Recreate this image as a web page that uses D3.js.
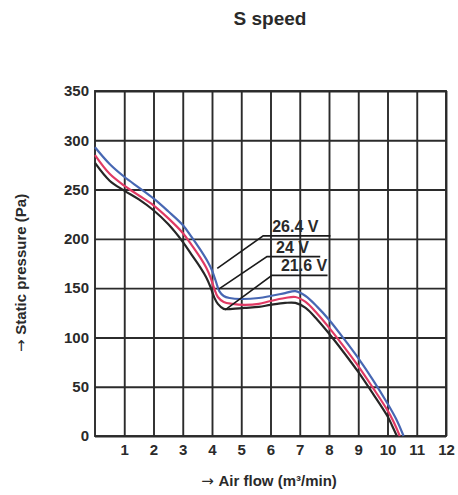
<!DOCTYPE html>
<html>
<head>
<meta charset="utf-8">
<script src="https://cdn.jsdelivr.net/npm/d3@7"></script>
<style>
    body { margin: 0; background: #fff; }
    text { font-family: "Liberation Sans", Arial, sans-serif; font-weight: bold; fill: #2a2a2a; }
    .arrow { font-family: "DejaVu Sans", sans-serif; font-weight: normal; }
</style>
</head>
<body>
<svg id="chart"></svg>
<script>
const title = "S speed";
const xTitle = "Air flow (m\u00b3/min)";
const yTitle = "Static pressure (Pa)";
const xTicks = [1, 2, 3, 4, 5, 6, 7, 8, 9, 10, 11, 12];
const yTicks = [0, 50, 100, 150, 200, 250, 300, 350];

// [air flow, static pressure]
const v264 = [[0, 293], [0.5, 276], [1, 263], [1.5, 252], [2, 241], [2.5, 228], [3, 214], [3.3, 202],
    [3.6, 189], [3.85, 177], [4, 168], [4.12, 158], [4.25, 147], [4.4, 142], [4.6, 140], [5, 139],
    [5.6, 140], [6, 142], [6.5, 145], [6.85, 147], [7.2, 142], [7.6, 131], [8, 118], [8.5, 99],
    [9, 79], [9.5, 57], [10, 33], [10.3, 17], [10.55, 0]];
const v240 = [[0, 285], [0.5, 266], [1, 254], [1.5, 244], [2, 234], [2.5, 221], [3, 206], [3.3, 194],
    [3.6, 181], [3.8, 171], [3.95, 161], [4.07, 150], [4.2, 141], [4.4, 136], [4.7, 134], [5.1, 133],
    [5.6, 134], [6, 137], [6.5, 140], [6.85, 141], [7.2, 136], [7.6, 124], [8, 110], [8.5, 91],
    [9, 71], [9.5, 49], [10, 26], [10.2, 15], [10.42, 0]];
const v216 = [[0, 277], [0.5, 259], [1, 249], [1.5, 240], [2, 229], [2.5, 215], [3, 197], [3.3, 184],
    [3.6, 171], [3.8, 161], [3.95, 151], [4.07, 141], [4.2, 134], [4.4, 129], [4.7, 129], [5.1, 130],
    [5.6, 131], [6, 133], [6.5, 135], [6.85, 135], [7.2, 130], [7.6, 118], [8, 104], [8.5, 85],
    [9, 65], [9.5, 43], [10, 20], [10.15, 11], [10.32, 0]];

const voltages = ["26.4 V", "24 V", "21.6 V"];
const colors = ["#4767b3", "#e03a64", "#262626"];
// leader tip on curve, then underline from x1 to x2 at height y1
const leaders = [
    { tip: [4.18, 170], x1: 5.75, x2: 8.05, y1: 203 },
    { tip: [4.23, 149], x1: 5.88, x2: 7.7, y1: 182 },
    { tip: [4.45, 128], x1: 6.05, x2: 7.95, y1: 163 }
];

const margin = { top: 91, right: 12, bottom: 59, left: 95 };
const W = 458, H = 495;
const width = W - margin.left - margin.right;
const height = H - margin.top - margin.bottom;

const svg = d3.select("#chart").attr("width", W).attr("height", H);
const g = svg.append("g").attr("transform", `translate(${margin.left}, ${margin.top})`);

const x = d3.scaleLinear().domain([0, 12]).range([0, width]);
const y = d3.scaleLinear().domain([0, 350]).range([height, 0]);

// grid through the axes
const xAxis = g.append("g")
    .attr("transform", `translate(0, ${height})`)
    .call(d3.axisBottom(x).tickValues(xTicks).tickSize(-height).tickPadding(8));
const yAxis = g.append("g")
    .call(d3.axisLeft(y).tickValues(yTicks).tickSize(-width).tickPadding(6));

[xAxis, yAxis].forEach(a => {
    a.select(".domain").remove();
    a.selectAll("line").attr("stroke", "#2b2b2b").attr("stroke-width", 1.9);
    a.selectAll("text").attr("font-size", 15).attr("fill", "#2a2a2a");
});

g.append("rect")
    .attr("width", width).attr("height", height)
    .attr("fill", "none").attr("stroke", "#2b2b2b").attr("stroke-width", 1.9);

const line = d3.line()
    .x(d => x(d[0]))
    .y(d => y(d[1]))
    .curve(d3.curveCatmullRom.alpha(0.5));

[v216, v240, v264].forEach((vals, i) => {
    g.append("path")
        .datum(vals)
        .attr("fill", "none")
        .attr("stroke", colors[2 - i])
        .attr("stroke-width", 2.2)
        .attr("d", line);
});

// voltage labels with leader lines
leaders.forEach((l, i) => {
    g.append("path")
        .attr("fill", "none")
        .attr("stroke", "#1a1a1a")
        .attr("stroke-width", 1.6)
        .attr("d", d3.line()([[x(l.tip[0]), y(l.tip[1])], [x(l.x1), y(l.y1)], [x(l.x2), y(l.y1)]]));
    g.append("text")
        .attr("x", x(l.x1) + 9)
        .attr("y", y(l.y1) - 4)
        .attr("font-size", 16)
        .text(voltages[i]);
});

svg.append("text")
    .attr("x", 270).attr("y", 25)
    .attr("text-anchor", "middle")
    .attr("font-size", 19)
    .text(title);

const xt = svg.append("text")
    .attr("x", 269).attr("y", 486)
    .attr("text-anchor", "middle")
    .attr("font-size", 15);
xt.append("tspan").attr("class", "arrow").text("\u2192 ");
xt.append("tspan").text(xTitle);

const yt = svg.append("text")
    .attr("transform", "translate(26, 273) rotate(-90)")
    .attr("text-anchor", "middle")
    .attr("font-size", 15);
yt.append("tspan").attr("class", "arrow").text("\u2192 ");
yt.append("tspan").text(yTitle);
</script>
</body>
</html>
